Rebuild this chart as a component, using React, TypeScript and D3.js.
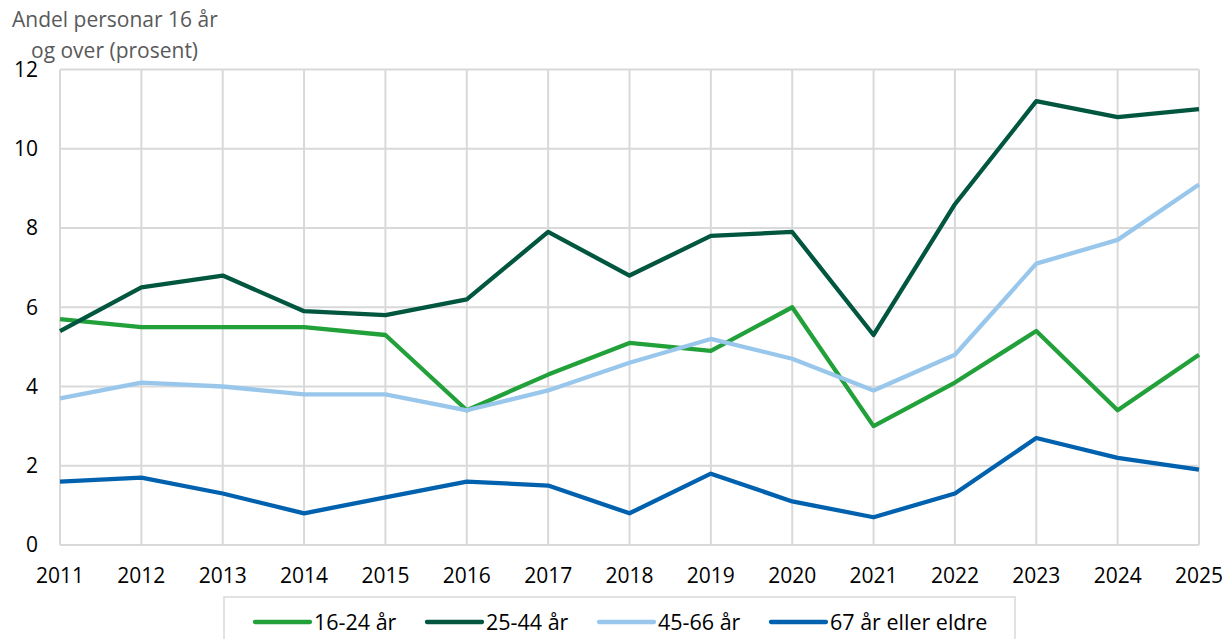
import React from "react";
import * as d3 from "d3";

const years = [2011, 2012, 2013, 2014, 2015, 2016, 2017, 2018, 2019, 2020, 2021, 2022, 2023, 2024, 2025];
const s1624 = [5.7, 5.5, 5.5, 5.5, 5.3, 3.4, 4.3, 5.1, 4.9, 6.0, 3.0, 4.1, 5.4, 3.4, 4.8];
const s2544 = [5.4, 6.5, 6.8, 5.9, 5.8, 6.2, 7.9, 6.8, 7.8, 7.9, 5.3, 8.6, 11.2, 10.8, 11.0];
const s4566 = [3.7, 4.1, 4.0, 3.8, 3.8, 3.4, 3.9, 4.6, 5.2, 4.7, 3.9, 4.8, 7.1, 7.7, 9.1];
const s67 = [1.6, 1.7, 1.3, 0.8, 1.2, 1.6, 1.5, 0.8, 1.8, 1.1, 0.7, 1.3, 2.7, 2.2, 1.9];
const yTicks = [0, 2, 4, 6, 8, 10, 12];
const seriesNames = ["16-24 år", "25-44 år", "45-66 år", "67 år eller eldre"];
const seriesColors = ["#22A13A", "#00563E", "#99C7EC", "#0062AE"];

const series = [s1624, s2544, s4566, s67];

export default function App() {
  const W = 1226, H = 639;
  const x = d3.scaleLinear().domain([2011, 2025]).range([60, 1199]);
  const y = d3.scaleLinear().domain([0, 12]).range([545, 69.5]);
  const line = d3.line<[number, number]>().x(d => x(d[0])).y(d => y(d[1]));
  const font = "'Open Sans', sans-serif";
  const legendX = [255, 427, 599, 771];
  return (
    <svg width={W} height={H} style={{ position: "absolute", left: 0, top: 0 }} fontFamily={font}>
      <rect x={0} y={0} width={W} height={H} fill="#fff" />
      {yTicks.map(t => (
        <line key={"h" + t} x1={x(2011)} x2={x(2025)} y1={y(t)} y2={y(t)} stroke="#d9d9d9" strokeWidth={2} />
      ))}
      {years.map(yr => (
        <line key={"v" + yr} x1={x(yr)} x2={x(yr)} y1={y(12)} y2={y(0)} stroke="#d9d9d9" strokeWidth={2} />
      ))}
      {yTicks.map(t => (
        <text key={"yt" + t} x={38} y={y(t)} dy="0.35em" textAnchor="end" fontSize={21} fill="#000">{t}</text>
      ))}
      {years.map(yr => (
        <text key={"xt" + yr} x={x(yr)} y={583} textAnchor="middle" fontSize={21} fill="#000">{yr}</text>
      ))}
      <text x={12} y={27} fontSize={21} fill="#595959">Andel personar 16 år</text>
      <text x={31} y={58} fontSize={21} fill="#595959">og over (prosent)</text>
      {series.map((s, i) => (
        <path key={"s" + i} d={line(years.map((yr, j) => [yr, s[j]] as [number, number])) || ""}
          fill="none" stroke={seriesColors[i]} strokeWidth={4.3} strokeLinejoin="round" />
      ))}
      <rect x={224} y={597} width={791} height={50} fill="#fff" stroke="#d9d9d9" strokeWidth={1.5} />
      {seriesNames.map((n, i) => (
        <g key={"l" + i}>
          <line x1={legendX[i]} x2={legendX[i] + 55} y1={622} y2={622} stroke={seriesColors[i]} strokeWidth={4.3} strokeLinecap="round" />
          <text x={legendX[i] + 59} y={622} dy="0.35em" fontSize={21.5} fill="#000">{n}</text>
        </g>
      ))}
    </svg>
  );
}
